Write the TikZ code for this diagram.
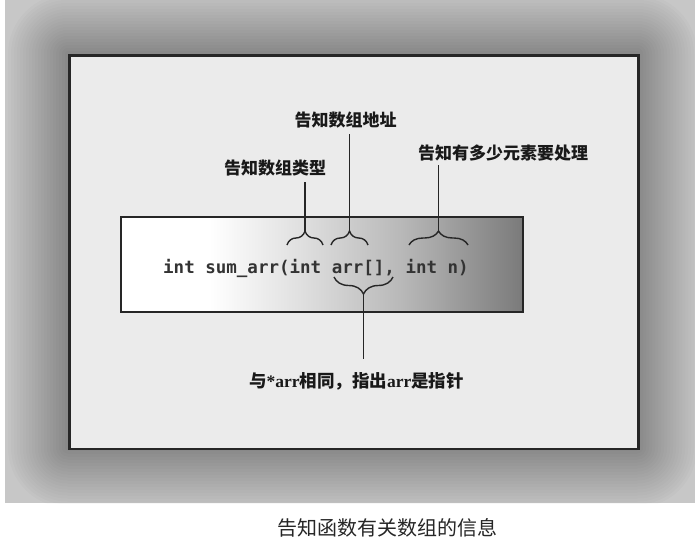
\documentclass[tikz,border=0pt]{standalone}
\usepackage{fontspec}
\newfontfamily\cjk{Noto Sans CJK SC}
\newfontfamily\codefont{DejaVu Sans Mono}
\newfontfamily\serifb{Liberation Serif}
\usetikzlibrary{decorations.pathreplacing}
\pgfdeclarehorizontalshading{codeshade}{100bp}{color(0bp)=(white); color(25bp)=(white); color(36bp)=(white); color(47bp)=(black!12); color(60bp)=(black!28); color(75bp)=(black!52); color(100bp)=(black!52)}
\begin{document}
\begin{tikzpicture}[x=1pt,y=1pt,
  lbl/.style={font=\cjk\bfseries\fontsize{17}{17}\selectfont, inner sep=0pt, text=black!90},
  brc/.style={decorate, decoration={brace, amplitude=#1}, line width=1.4pt, black!85},
  brc/.default=14pt,
  leader/.style={line width=1.5pt, black!85},
]
\useasboundingbox (0,0) rectangle (695,-552);
\fill[white] (0,0) rectangle (695,-552);
% vignette background
\begin{scope}
  \clip (5,0) rectangle (695,-503);
  \fill[black!22] (5,0) rectangle (695,-503);
  \foreach \d in {3,6,...,60}
    \fill[black, opacity=0.014, rounded corners=\d pt] (68-\d,-54+\d) rectangle (637+\d,-447.5-\d);
\end{scope}
% panel
\node[draw=black!85, line width=2.5pt, fill=black!8, minimum width=569pt, minimum height=393.5pt,
      inner sep=0pt, anchor=north west] (panel) at (68,-54) {};
% code box
\node[draw=black!85, line width=2pt, shade, shading=codeshade, minimum width=402pt, minimum height=94.5pt,
      inner sep=0pt, anchor=north west] (box) at (120,-216) {};
\node[font=\codefont\bfseries\fontsize{17.5}{17.5}\selectfont, anchor=base west, inner sep=0pt, text=black!80]
  (code) at (163,-273) {int sum\_arr(int arr[], int n)};
% brace coordinates
\coordinate (b1l) at (287,-245);   \coordinate (b1r) at (323,-245);   \coordinate (t1) at (305,-231);
\coordinate (b2l) at (331,-245);   \coordinate (b2r) at (368,-245);   \coordinate (t2) at (349.5,-231);
\coordinate (b3l) at (409,-245);   \coordinate (b3r) at (468,-245);   \coordinate (t3) at (438.5,-231);
\coordinate (b4l) at (334,-277);   \coordinate (b4r) at (393,-277);   \coordinate (t4) at (363.5,-294);
\draw[brc] (b1l) -- (b1r);
\draw[brc] (b2l) -- (b2r);
\draw[brc] (b3l) -- (b3r);
\draw[brc=17pt] (b4r) -- (b4l);
% labels
\node[lbl] (l1) at (275,-168) {告知数组类型};
\node[lbl] (l2) at (345.5,-119.7) {告知数组地址};
\node[lbl] (l3) at (503,-153.5) {告知有多少元素要处理};
\node[lbl, font=\cjk\bfseries\fontsize{17.5}{17.5}\selectfont] (l4) at (356.5,-381.5)
  {与{\serifb\bfseries *arr}相同，指出{\serifb\bfseries arr}是指针};
% leaders
\draw[leader] (t1) -- ([yshift=-6pt]t1 |- l1.south);
\draw[leader] (t2) -- ([yshift=-6pt]t2 |- l2.south);
\draw[leader] (t3) -- ([yshift=-3pt]t3 |- l3.south);
\draw[leader] (t4) -- ([yshift=13pt]t4 |- l4.north);
% caption
\node[font=\cjk\fontsize{20}{20}\selectfont, inner sep=0pt, text=black!85] (cap) at (387.5,-528) {告知函数有关数组的信息};
\end{tikzpicture}
\end{document}
